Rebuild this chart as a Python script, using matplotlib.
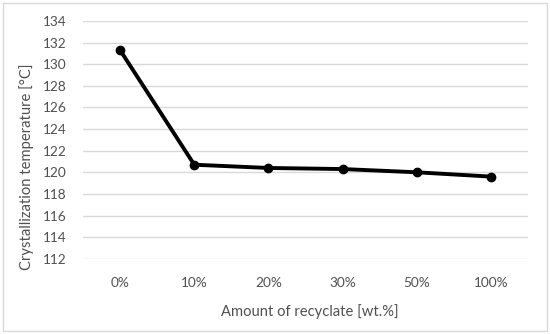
import matplotlib.pyplot as plt
from matplotlib.patches import Rectangle

categories = ["0%", "10%", "20%", "30%", "50%", "100%"]
cryst_temp = [131.3, 120.7, 120.4, 120.3, 120.0, 119.6]
y_ticks = list(range(112, 135, 2))

plt.rcParams["font.family"] = ["Lato", "DejaVu Sans"]
text_color = "#505050"

fig = plt.figure(figsize=(5.5, 3.34), dpi=100)
ax = fig.add_axes([0.151, 0.2254, 0.809, 0.7116])

xs = range(len(categories))
ax.plot(xs, cryst_temp, color="black", linewidth=2.8, marker="o", markersize=6,
        solid_joinstyle="round", zorder=3)

ax.set_xlim(-0.5, len(categories) - 0.5)
ax.set_ylim(112, 134)
ax.set_yticks(y_ticks)
ax.set_xticks(list(xs))
ax.set_xticklabels(categories)
ax.grid(axis="y", color="#d9d9d9", linewidth=1.0)
ax.set_axisbelow(True)
for spine in ax.spines.values():
    spine.set_visible(False)
ax.tick_params(length=0, labelsize=9.8, labelcolor=text_color)
ax.tick_params(axis="x", pad=13)
ax.tick_params(axis="y", pad=12)

# Excel centres the axis titles on the chart area, not the plot area
fig.text(0.564, 1 - 312 / 334, "Amount of recyclate [wt.%]", fontsize=10.6,
         color=text_color, ha="center", va="center")
fig.text(27 / 550, 0.5, "Crystallization temperature [°C]", fontsize=10.6,
         color=text_color, ha="center", va="center", rotation=90)

fig.patches.append(Rectangle((0.006, 0.01), 0.988, 0.98, transform=fig.transFigure,
                             fill=False, edgecolor="#d9d9d9", linewidth=1.0))

fig.savefig("out.png", dpi=100)
